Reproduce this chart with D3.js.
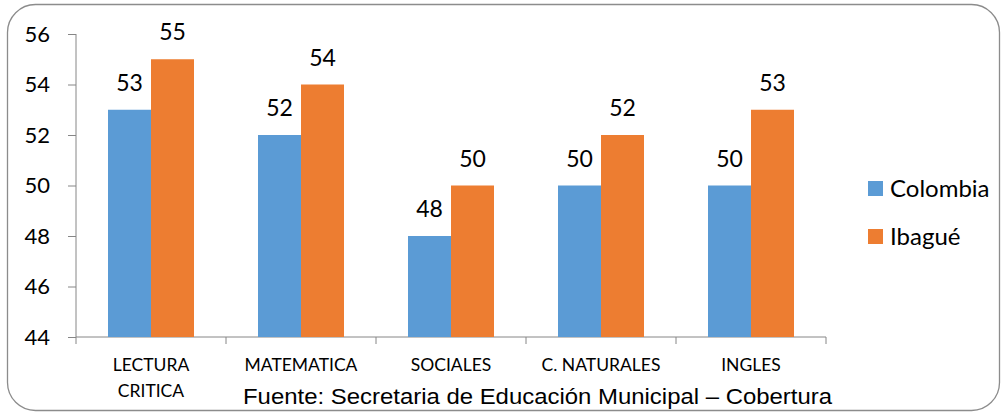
<!DOCTYPE html>
<html><head><meta charset="utf-8">
<script src="https://cdn.jsdelivr.net/npm/d3@7"></script>
<style>body{margin:0;background:#fff}svg{display:block}</style>
</head><body>
<script>
const categories = [["LECTURA","CRITICA"],["MATEMATICA"],["SOCIALES"],["C. NATURALES"],["INGLES"]];
const seriesNames = ["Colombia","Ibagué"];
const colombia = [53,52,48,50,50];
const ibague = [55,54,50,52,53];
const yTicks = [44,46,48,50,52,54,56];
const colors = ["#5B9BD5","#ED7D31"];
const source = "Fuente: Secretaria de Educación Municipal – Cobertura";

(function(){
const W = 1004, H = 414;
const svg = d3.select("body").append("svg").attr("width", W).attr("height", H);
svg.append("rect").attr("x",7.5).attr("y",4.5).attr("width",992).attr("height",406)
  .attr("rx",28).attr("ry",28).attr("fill","#fff").attr("stroke","#8c8c8c").attr("stroke-width",1.3);

const pL = 76, pR = 826, pT = 34, pB = 337;
const x = d3.scaleBand().domain(d3.range(categories.length)).range([pL, pR]).paddingInner(0).paddingOuter(0);
const y = d3.scaleLinear().domain([44,56]).range([pB, pT]);
const inner = d3.scaleBand().domain([0,1]).range([0, 86]);
const off = (x.bandwidth() - 86) / 2;

const font = "Lato, 'Open Sans', sans-serif";
const yAxis = svg.append("g").attr("transform", `translate(${pL},0)`)
  .call(d3.axisLeft(y).tickValues(yTicks).tickSize(8).tickPadding(18).tickFormat(d3.format("d")));
yAxis.select(".domain").attr("stroke","#868686").attr("d", `M0,${pT}V${pB}`);
yAxis.selectAll(".tick line").attr("stroke","#868686");
yAxis.selectAll(".tick text").attr("font-family", font).attr("font-size", 22).attr("fill","#000");

const xAxis = svg.append("g").attr("transform", `translate(0,${pB})`);
xAxis.append("line").attr("x1", pL).attr("x2", pR).attr("stroke","#868686");
const edges = d3.range(categories.length + 1).map(i => i < categories.length ? x(i) : x(i-1) + x.bandwidth());
xAxis.selectAll("line.tk").data(edges).join("line").attr("class","tk")
  .attr("x1", d => d).attr("x2", d => d).attr("y1", 0).attr("y2", 7).attr("stroke","#868686");
categories.forEach((lines, i) => {
  const t = xAxis.append("text").attr("text-anchor","middle").attr("font-family", font)
    .attr("font-size", 17.5).attr("fill","#000");
  lines.forEach((l, j) => t.append("tspan").attr("x", x(i) + x.bandwidth()/2).attr("y", 34 + j*26).text(l));
});

const series = [colombia, ibague];
series.forEach((vals, s) => {
  const g = svg.append("g");
  g.selectAll("rect").data(vals).join("rect")
    .attr("x", (d,i) => x(i) + off + inner(s))
    .attr("y", d => y(d))
    .attr("width", inner.bandwidth())
    .attr("height", d => y(44) - y(d))
    .attr("fill", colors[s]);
  g.selectAll("text").data(vals).join("text")
    .attr("x", (d,i) => x(i) + off + inner(s) + inner.bandwidth()/2)
    .attr("y", d => y(d) - 19)
    .attr("text-anchor","middle").attr("font-family", font).attr("font-size", 23).attr("fill","#000")
    .text(d => d);
});

seriesNames.forEach((n, i) => {
  const ly = 181 + i*48;
  svg.append("rect").attr("x", 868).attr("y", ly).attr("width", 15).attr("height", 15).attr("fill", colors[i]);
  svg.append("text").attr("x", 890).attr("y", ly + 16).attr("font-family", font).attr("font-size", 24)
    .attr("fill","#000").text(n);
});

svg.append("text").attr("x", 243).attr("y", 404).attr("font-family","'Liberation Sans', Arial, sans-serif")
  .attr("font-size", 22).attr("textLength", 589).attr("lengthAdjust","spacingAndGlyphs")
  .attr("fill","#000").text(source);
})();
</script>
</body></html>
